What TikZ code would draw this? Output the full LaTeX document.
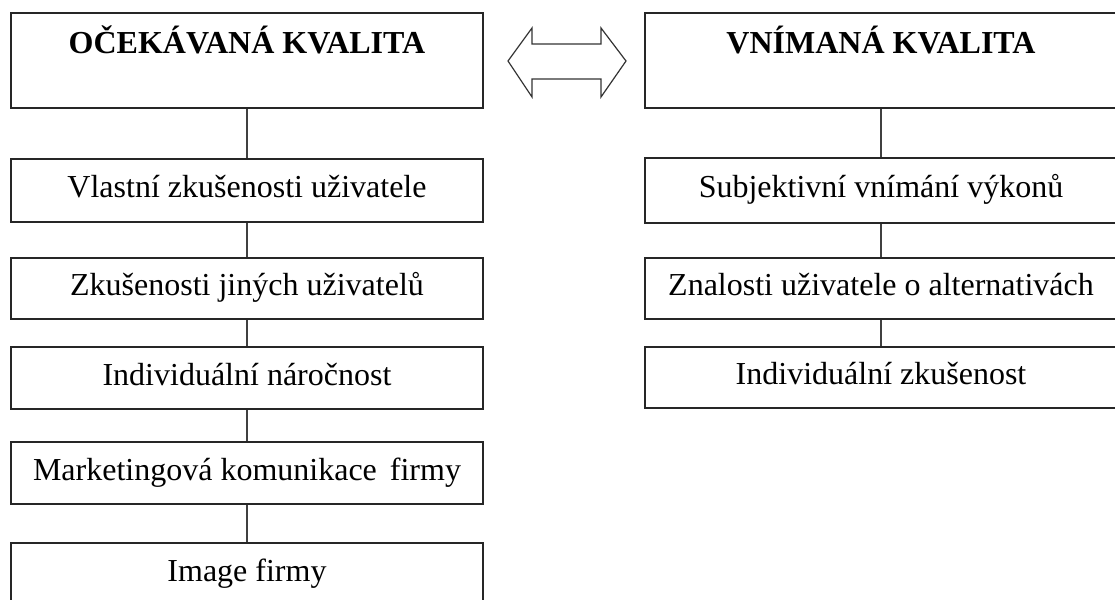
\documentclass[tikz,border=0pt]{standalone}
\usepackage{fontspec}
\setmainfont{Liberation Serif}
\begin{document}
\begin{tikzpicture}[x=1pt,y=-1pt,
  box/.style={draw=black!85, line width=1.6pt, rectangle, minimum width=472pt, inner sep=0pt,
    font=\fontsize{32}{38}\selectfont, text height=22pt, text depth=8pt},
  titlebox/.style={box, font=\fontsize{32}{38}\selectfont\bfseries, text height=22pt, text depth=35pt},
  link/.style={draw=black!75, line width=1.6pt}]
\useasboundingbox (0,0) rectangle (1115,599);
\clip (0,0) rectangle (1115,599);
\fill[white] (0,0) rectangle (1115,599);
% left column
\node[titlebox, minimum height=95pt] (L0) at (247,60.5) {OČEKÁVANÁ KVALITA};
\node[box, minimum height=63pt] (L1) at (247,190.5) {Vlastní zkušenosti uživatele};
\node[box, minimum height=61pt] (L2) at (247,288.5) {Zkušenosti jiných uživatelů};
\node[box, minimum height=62pt] (L3) at (247,378) {Individuální náročnost};
\node[box, minimum height=62pt] (L4) at (247,473) {Marketingová komunikace\hspace{5pt} firmy};
\node[box, minimum height=62pt] (L5) at (247,574) {Image firmy};
% right column
\node[titlebox, minimum height=95pt] (R0) at (881,60.5) {VNÍMANÁ KVALITA};
\node[box, minimum height=65pt] (R1) at (881,190.5) {Subjektivní vnímání výkonů};
\node[box, minimum height=61pt] (R2) at (881,288.5) {Znalosti uživatele o alternativách};
\node[box, minimum height=61pt] (R3) at (881,377.5) {Individuální zkušenost};
% connectors
\draw[link] (L0) -- (L1);
\draw[link] (L1) -- (L2);
\draw[link] (L2) -- (L3);
\draw[link] (L3) -- (L4);
\draw[link] (L4) -- (L5);
\draw[link] (R0) -- (R1);
\draw[link] (R1) -- (R2);
\draw[link] (R2) -- (R3);
% double block arrow
\draw[draw=black!80, line width=1.2pt, line join=miter]
  (508,61) -- (532,28) -- (532,44) -- (601,44) -- (601,28) -- (626,61)
  -- (601,97) -- (601,79) -- (532,79) -- (532,97) -- cycle;
\end{tikzpicture}
\end{document}
